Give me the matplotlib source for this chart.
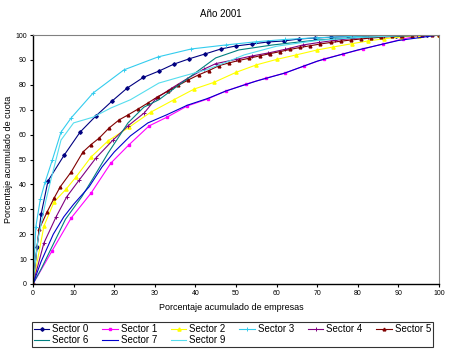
import matplotlib
matplotlib.use("Agg")
from matplotlib import pyplot as plt

plt.rcParams['font.family'] = ['Liberation Sans', 'DejaVu Sans']

# Cumulative share curves (x = % empresas, y = % cuota)
s0_x = [0, 1, 2, 3.7, 7.7, 11.6, 15.5, 19.5, 23.2, 27.2, 31, 34.7, 38.4, 42.4, 46.3, 50, 54, 57.9,
        61.8, 65.5, 69.5, 73.5, 77.5, 81.5, 85.5, 89.5, 93.5, 97, 100]
s0_y = [0, 15, 28, 41.4, 51.8, 61, 67.5, 73.5, 78.7, 83, 85.5, 88.3, 90.4, 92.4, 94.4, 95.6, 96.4, 97.2,
        97.6, 98.4, 98.8, 99.1, 99.4, 99.6, 99.7, 99.8, 99.9, 100, 100]

s1_x = [0, 4.7, 9.4, 14.3, 19.2, 23.7, 28.6, 33, 38, 43, 47.5, 52.5, 57.4, 62, 66.7, 71.7, 76.4,
        81.3, 86.2, 91.1, 96, 100]
s1_y = [0, 13.3, 26.5, 36.5, 48.6, 56, 63.5, 67, 71.5, 74.3, 77.5, 80.3, 82.7, 84.7, 87.5, 90.4, 92.4,
        94.4, 96.4, 98.4, 100, 100]

s2_x = [0, 2.7, 5.2, 8.1, 10.6, 14.3, 18.5, 23.7, 29, 34.7, 39.7, 44.6, 50, 55, 60, 64.8, 70, 74,
        78.5, 82.5, 86.5, 90.6, 95, 100]
s2_y = [0, 23.3, 33, 38, 43, 51, 57.5, 63, 69, 74, 78.3, 81, 85, 88, 90.2, 92, 94, 95.2,
        96.5, 97.6, 98.5, 99.2, 99.7, 100]

s3_x = [0, 0.7, 1.8, 3, 4.8, 6.9, 9.4, 14.8, 22.4, 30.8, 39, 47.5, 55, 62, 70, 78, 86, 93, 100]
s3_y = [0, 23, 34, 41, 50, 61, 66.7, 76.7, 86, 91.2, 94.4, 96, 97.3, 98.2, 98.9, 99.4, 99.7, 99.9, 100]

s4_x = [0, 2.7, 5.7, 8.3, 11.4, 15.5, 19.7, 23.4, 27.4, 30.3, 34, 38, 42, 45, 50, 54, 58, 62, 66.5,
        70.5, 74.5, 78.5, 82.5, 86.5, 90.5, 94.5, 100]
s4_y = [0, 16.5, 27, 35, 41.8, 50.6, 57.8, 63.5, 68.7, 74.5, 78.5, 82.5, 86.2, 88.5, 90.2, 91.6, 92.8,
        94.2, 96, 97, 97.9, 98.6, 99.1, 99.5, 99.8, 100, 100]

s5_x = [0, 1.5, 3.5, 5.2, 6.7, 9.4, 12.3, 14.3, 16.3, 18.7, 21.2, 23.4, 25.9, 28.3, 30.8, 33.3, 35.8,
        38.3, 40.8, 43.3, 45.8, 48.3, 50.8, 53.3, 55.8, 58.3, 60.8, 63.3, 65.8, 68.3, 70.8, 73.3,
        75.8, 78.3, 80.8, 83.3, 85.8, 88.3, 90.8, 93.3, 95.8, 98.3, 100]
s5_y = [0, 22, 29, 34.5, 39, 45, 53, 56, 58.6, 62.6, 65.9, 67.9, 70.3, 72.7, 75.3, 77.5, 79.8,
        82, 84, 85.7, 87.7, 88.8, 89.8, 90.7, 91.6, 92.5, 93.3, 94.2, 95, 95.7, 96.4, 97,
        97.5, 98, 98.4, 98.8, 99.1, 99.4, 99.6, 99.8, 99.9, 100, 100]

s6_x = [0, 2, 5, 8, 12, 15, 18.5, 23.4, 27.3, 31, 36, 41, 45, 50.7, 59, 70, 80, 90, 100]
s6_y = [0, 6, 16, 26, 35, 43, 52.6, 64.7, 71, 74, 80, 86, 90.8, 94, 96, 98, 99, 99.6, 100]

s7_x = [0, 2, 5, 7.6, 10, 13.8, 17, 20, 24, 28.3, 33, 38, 43, 47.5, 55, 62, 70, 80, 90, 100]
s7_y = [0, 9, 20, 27, 32, 39, 47, 53, 59.5, 64.7, 68, 71.8, 74.5, 77.5, 81.5, 84.7, 89.5, 94, 97.8, 100]

s9_x = [0, 1.2, 3.2, 4.4, 6.9, 10, 14.8, 19.2, 24, 31, 37, 42.6, 47.5, 52, 60, 70, 80, 90, 100]
s9_y = [0, 17.7, 33.7, 41.8, 57.8, 64.7, 67, 70.7, 74, 80.7, 83.5, 86, 89, 92, 95.5, 97.8, 99, 99.7, 100]

xticks = [0, 10, 20, 30, 40, 50, 60, 70, 80, 90, 100]
yticks = [0, 10, 20, 30, 40, 50, 60, 70, 80, 90, 100]

fig = plt.figure(figsize=(4.5, 3.55), dpi=100)
ax = fig.add_axes([0.0733, 0.2, 0.9023, 0.7014])

lw = 0.8
h0, = ax.plot(s0_x, s0_y, color="#000080", lw=lw, marker="D", ms=1.8, label="Sector 0")
h1, = ax.plot(s1_x, s1_y, color="#FF00FF", lw=lw, marker="s", ms=2, label="Sector 1")
h2, = ax.plot(s2_x, s2_y, color="#FFFF00", lw=lw, marker="^", ms=2.3, label="Sector 2")
h3, = ax.plot(s3_x, s3_y, color="#33CCEE", lw=lw, marker="+", ms=2.3, mew=0.7, label="Sector 3")
h4, = ax.plot(s4_x, s4_y, color="#800080", lw=lw, marker="+", ms=2.3, mew=0.7, label="Sector 4")
h5, = ax.plot(s5_x, s5_y, color="#800000", lw=lw, marker="^", ms=2, label="Sector 5")
h6, = ax.plot(s6_x, s6_y, color="#008080", lw=lw, label="Sector 6")
h7, = ax.plot(s7_x, s7_y, color="#0000CC", lw=lw, label="Sector 7")
h9, = ax.plot(s9_x, s9_y, color="#55DDEE", lw=lw, label="Sector 9")

ax.set_xlim(0, 100)
ax.set_ylim(0, 100)
ax.set_xticks(xticks)
ax.set_yticks(yticks)
ax.tick_params(labelsize=5, length=2.5, width=0.8, pad=2)
for side in ["top", "right"]:
    ax.spines[side].set_color("#808080")
for side in ["left", "bottom"]:
    ax.spines[side].set_linewidth(1)

fig.suptitle("Año 2001", x=0.49, y=0.975, fontsize=7)
fig.text(0.515, 0.135, "Porcentaje acumulado de empresas", ha="center", va="center", fontsize=6.5)
fig.text(0.018, 0.55, "Porcentaje acumulado de cuota", ha="center", va="center",
         rotation=90, fontsize=6.5)

# legend is filled column by column, so interleave to get rows like the reference
order = [h0, h6, h1, h7, h2, h9, h3, h4, h5]
leg = fig.legend(handles=order, loc="lower left", bbox_to_anchor=(0.071, 0.022, 0.891, 0.068),
                 ncol=6, mode="expand", fontsize=7, frameon=True, fancybox=False,
                 handlelength=1.6, handletextpad=0.3, borderaxespad=0, borderpad=0.2,
                 labelspacing=0.1, columnspacing=0.8)
leg.get_frame().set_edgecolor("black")
leg.get_frame().set_linewidth(0.8)

fig.savefig("out.png", dpi=100)
